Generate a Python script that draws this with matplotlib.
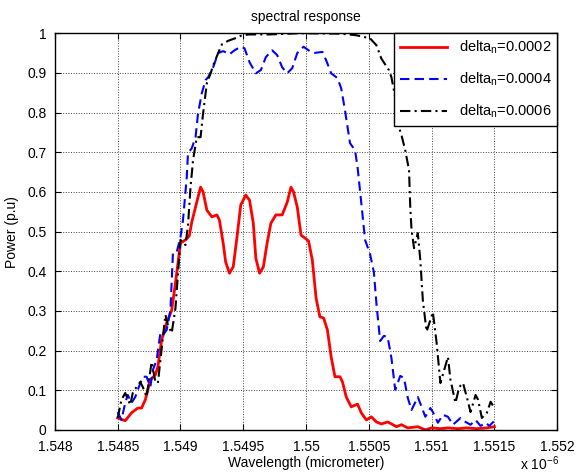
import numpy as np
import matplotlib
matplotlib.use('Agg')
import matplotlib.pyplot as plt
from matplotlib.ticker import FixedLocator, FormatStrFormatter

plt.rcParams['font.family'] = ['Liberation Sans', 'DejaVu Sans']
plt.rcParams['mathtext.fontset'] = 'custom'
plt.rcParams['mathtext.rm'] = 'Liberation Sans'
plt.rcParams['mathtext.it'] = 'Liberation Sans'

# wavelength in units of 1e-6 m, power in p.u.
wl_02 = [1.54850, 1.54856, 1.54861, 1.54866, 1.54869, 1.54872, 1.54876, 1.54880, 1.54882, 1.54885,
         1.54889, 1.54893, 1.54896, 1.54900, 1.54904, 1.54907, 1.54909, 1.54912, 1.54916, 1.54918,
         1.54921, 1.54925, 1.54929, 1.54931, 1.54934, 1.54936, 1.54939, 1.54942, 1.54945, 1.54948,
         1.54952, 1.54955, 1.54958, 1.54960, 1.54963, 1.54966, 1.54969, 1.54972, 1.54976, 1.54981,
         1.54985, 1.54988, 1.54990, 1.54993, 1.54996, 1.54999, 1.55002, 1.55005, 1.55008, 1.55011,
         1.55014, 1.55017, 1.55020, 1.55023, 1.55027, 1.55029, 1.55032, 1.55036, 1.55041, 1.55044,
         1.55048, 1.55052, 1.55056, 1.55060, 1.55065, 1.55068, 1.55072, 1.55076, 1.55081, 1.55089,
         1.55095, 1.55100, 1.55107, 1.55113, 1.55121, 1.55128, 1.55136, 1.55144, 1.55150]
p_02 = [0.030, 0.023, 0.043, 0.055, 0.055, 0.076, 0.126, 0.139, 0.159, 0.227,
        0.270, 0.302, 0.370, 0.471, 0.479, 0.489, 0.524, 0.562, 0.612, 0.600,
        0.554, 0.537, 0.542, 0.529, 0.471, 0.423, 0.395, 0.411, 0.486, 0.567,
        0.592, 0.579, 0.521, 0.433, 0.395, 0.411, 0.471, 0.521, 0.542, 0.542,
        0.574, 0.612, 0.600, 0.562, 0.491, 0.484, 0.476, 0.428, 0.332, 0.285,
        0.282, 0.252, 0.184, 0.134, 0.134, 0.121, 0.083, 0.058, 0.065, 0.043,
        0.025, 0.033, 0.020, 0.015, 0.020, 0.015, 0.008, 0.013, 0.005, 0.008,
        0.000, 0.005, 0.003, 0.005, 0.003, 0.005, 0.003, 0.005, 0.008]

wl_04 = [1.54850, 1.54853, 1.54856, 1.54858, 1.54861, 1.54864, 1.54866, 1.54870, 1.54873, 1.54876,
         1.54878, 1.54881, 1.54884, 1.54886, 1.54889, 1.54892, 1.54894, 1.54897, 1.54900, 1.54902,
         1.54905, 1.54906, 1.54909, 1.54912, 1.54914, 1.54917, 1.54920, 1.54922, 1.54926, 1.54930,
         1.54934, 1.54939, 1.54943, 1.54948, 1.54951, 1.54955, 1.54960, 1.54964, 1.54968, 1.54973,
         1.54977, 1.54981, 1.54985, 1.54989, 1.54993, 1.54998, 1.55002, 1.55006, 1.55013, 1.55016,
         1.55020, 1.55025, 1.55028, 1.55031, 1.55035, 1.55039, 1.55041, 1.55044, 1.55047, 1.55051,
         1.55054, 1.55056, 1.55059, 1.55062, 1.55065, 1.55068, 1.55071, 1.55075, 1.55078, 1.55081,
         1.55084, 1.55089, 1.55092, 1.55095, 1.55099, 1.55101, 1.55105, 1.55109, 1.55113, 1.55117,
         1.55123, 1.55127, 1.55131, 1.55135, 1.55139, 1.55143, 1.55146, 1.55150]
p_04 = [0.045, 0.025, 0.068, 0.088, 0.068, 0.083, 0.101, 0.134, 0.134, 0.108,
        0.151, 0.176, 0.244, 0.239, 0.252, 0.302, 0.446, 0.448, 0.486, 0.529,
        0.637, 0.698, 0.710, 0.738, 0.798, 0.849, 0.882, 0.889, 0.914, 0.950,
        0.955, 0.947, 0.957, 0.966, 0.962, 0.927, 0.899, 0.907, 0.940, 0.957,
        0.945, 0.914, 0.899, 0.912, 0.950, 0.966, 0.957, 0.950, 0.953, 0.932,
        0.899, 0.887, 0.861, 0.806, 0.723, 0.705, 0.663, 0.572, 0.479, 0.443,
        0.398, 0.320, 0.224, 0.237, 0.234, 0.181, 0.101, 0.136, 0.131, 0.081,
        0.050, 0.083, 0.058, 0.033, 0.055, 0.045, 0.018, 0.038, 0.033, 0.013,
        0.030, 0.020, 0.013, 0.025, 0.010, 0.018, 0.010, 0.023]

wl_06 = [1.54850, 1.54853, 1.54856, 1.54860, 1.54862, 1.54865, 1.54868, 1.54870, 1.54873, 1.54877,
         1.54880, 1.54882, 1.54888, 1.54890, 1.54893, 1.54896, 1.54900, 1.54904, 1.54906, 1.54908,
         1.54910, 1.54913, 1.54916, 1.54918, 1.54921, 1.54924, 1.54926, 1.54930, 1.54933, 1.54938,
         1.54945, 1.54949, 1.54955, 1.54971, 1.54995, 1.55027, 1.55040, 1.55051, 1.55056, 1.55060,
         1.55066, 1.55068, 1.55071, 1.55074, 1.55076, 1.55079, 1.55082, 1.55083, 1.55084, 1.55086,
         1.55089, 1.55091, 1.55093, 1.55096, 1.55099, 1.55101, 1.55104, 1.55107, 1.55110, 1.55113,
         1.55115, 1.55119, 1.55122, 1.55125, 1.55128, 1.55131, 1.55135, 1.55137, 1.55140, 1.55144,
         1.55147, 1.55150]
p_06 = [0.030, 0.076, 0.093, 0.063, 0.093, 0.108, 0.121, 0.108, 0.083, 0.171,
        0.121, 0.118, 0.290, 0.264, 0.244, 0.307, 0.479, 0.466, 0.516, 0.612,
        0.680, 0.738, 0.738, 0.798, 0.874, 0.899, 0.919, 0.950, 0.972, 0.981,
        0.989, 0.995, 0.997, 0.997, 1.000, 0.999, 0.995, 0.987, 0.970, 0.936,
        0.907, 0.889, 0.839, 0.763, 0.743, 0.705, 0.655, 0.562, 0.504, 0.458,
        0.496, 0.428, 0.327, 0.248, 0.277, 0.297, 0.219, 0.118, 0.151, 0.184,
        0.126, 0.068, 0.108, 0.118, 0.083, 0.045, 0.088, 0.076, 0.030, 0.043,
        0.071, 0.055]

labels = ['delta$_\\mathrm{n}$=0.0002', 'delta$_\\mathrm{n}$=0.0004', 'delta$_\\mathrm{n}$=0.0006']
x_ticks = [1.548, 1.5485, 1.549, 1.5495, 1.55, 1.5505, 1.551, 1.5515, 1.552]
y_ticks = [0, 0.1, 0.2, 0.3, 0.4, 0.5, 0.6, 0.7, 0.8, 0.9, 1]

fig = plt.figure(figsize=(5.78, 4.75), dpi=100)
ax = fig.add_axes([0.095, 0.095, 0.869, 0.835])

ax.plot(wl_02, p_02, color='red', lw=2.0, ls='-', label=labels[0])
ax.plot(wl_04, p_04, color='blue', lw=1.5, ls='--', dashes=(4.5, 2.5), label=labels[1])
ax.plot(wl_06, p_06, color='black', lw=1.5, ls='-.', dashes=(5, 2, 1, 2), label=labels[2])

ax.set_xlim(1.548, 1.552)
ax.set_ylim(0, 1)
ax.xaxis.set_major_locator(FixedLocator(x_ticks))
ax.yaxis.set_major_locator(FixedLocator(y_ticks))
ax.xaxis.set_major_formatter(FormatStrFormatter('%g'))
ax.yaxis.set_major_formatter(FormatStrFormatter('%g'))
ax.tick_params(direction='in', top=True, right=True, labelsize=10, length=4, width=0.8)
ax.tick_params(axis='x', pad=7)
ax.tick_params(axis='y', pad=6)
ax.grid(True, ls=':', color='#444444', lw=0.7)
for s in ax.spines.values():
    s.set_linewidth(1.0)

ax.set_title('spectral response', fontsize=10, pad=9)
ax.set_xlabel('Wavelength (micrometer)', fontsize=10, labelpad=2)
ax.set_ylabel('Power (p.u)', fontsize=10, labelpad=6)
fig.text(0.9, 0.01, 'x 10$^{-6}$', fontsize=10)

leg = ax.legend(loc='upper right', borderaxespad=0, fancybox=False, fontsize=10.5,
                edgecolor='black', framealpha=1, handlelength=3.2, labelspacing=1.0)
leg.get_frame().set_linewidth(1.0)

plt.savefig('out.png', dpi=100)
plt.close()
